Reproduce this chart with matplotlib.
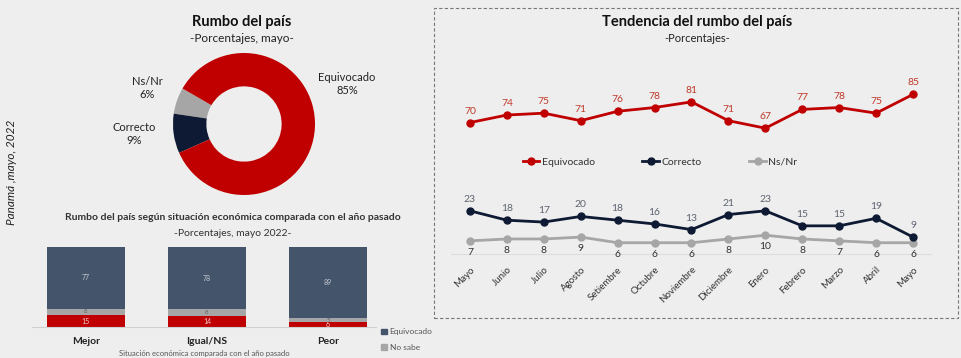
import matplotlib.pyplot as plt
from matplotlib.lines import Line2D
from matplotlib.patches import Rectangle, Patch

plt.rcParams['font.family'] = ['Lato', 'DejaVu Sans']

# donut
dona_labels = ["Ns/Nr", "Correcto", "Equivocado"]
dona_vals = [6, 9, 85]

# barras por situacion economica
sit = ["Mejor", "Igual/NS", "Peor"]
correcto_sit = [15, 14, 6]
nosabe_sit = [8, 8, 5]
equivocado_sit = [77, 78, 89]

# tendencia
meses = ["Mayo", "Junio", "Julio", "Agosto", "Setiembre", "Octubre", "Noviembre",
         "Diciembre", "Enero", "Febrero", "Marzo", "Abril", "Mayo"]
equivocado = [70, 74, 75, 71, 76, 78, 81, 71, 67, 77, 78, 75, 85]
correcto = [23, 18, 17, 20, 18, 16, 13, 21, 23, 15, 15, 19, 9]
nsnr = [7, 8, 8, 9, 6, 6, 6, 8, 10, 8, 7, 6, 6]

ROJO = '#c00000'
AZUL = '#0e1a33'
GRIS = '#a6a6a6'
PIZARRA = '#44546a'

W, H = 962, 358
fig = plt.figure(figsize=(W / 100, H / 100), dpi=100, facecolor='#eeeeee')


def fx(px):
    return px / W


def fy(py):
    return 1 - py / H


# ---------- donut ----------
fig.text(fx(242), fy(22), "Rumbo del país", ha='center', va='center',
         fontsize=10.5, fontweight='bold', color='#111111')
fig.text(fx(242), fy(39), "-Porcentajes, mayo-", ha='center', va='center',
         fontsize=8.5, color='#222222')

ax0 = fig.add_axes([fx(244 - 71), fy(124 + 71), fx(142), 142 / H])
ax0.pie(dona_vals, colors=[GRIS, AZUL, ROJO], startangle=150, counterclock=True,
        wedgeprops=dict(width=0.47, edgecolor='none'))
ax0.set_xlim(-1, 1)
ax0.set_ylim(-1, 1)
ax0.set_aspect('equal')
ax0.axis('off')

fig.text(fx(347), fy(84), "Equivocado\n85%", ha='center', va='center',
         fontsize=8, color='#222222', linespacing=1.3)
fig.text(fx(147), fy(88), "Ns/Nr\n6%", ha='center', va='center',
         fontsize=8, color='#222222', linespacing=1.3)
fig.text(fx(134), fy(134), "Correcto\n9%", ha='center', va='center',
         fontsize=8, color='#222222', linespacing=1.3)

fig.text(fx(12), fy(172), "Panamá ,mayo, 2022", rotation=90, ha='center', va='center',
         fontsize=8.5, style='italic', color='#222222')

# ---------- barras ----------
fig.text(fx(233), fy(218), "Rumbo del país según situación económica comparada con el año pasado",
         ha='center', va='center', fontsize=7.5, fontweight='bold', color='#333333')
fig.text(fx(233), fy(233), "-Porcentajes, mayo 2022-", ha='center', va='center',
         fontsize=7.5, color='#333333')

ax1 = fig.add_axes([fx(31.5), fy(327), fx(376.4 - 31.5), 80 / H])
ax1.set_facecolor('none')
xs = range(len(sit))
b1 = ax1.bar(xs, correcto_sit, width=0.645, color=ROJO)
b2 = ax1.bar(xs, nosabe_sit, width=0.645, bottom=correcto_sit, color=GRIS)
base2 = [a + b for a, b in zip(correcto_sit, nosabe_sit)]
b3 = ax1.bar(xs, equivocado_sit, width=0.645, bottom=base2, color=PIZARRA)
ax1.bar_label(b1, label_type='center', fontsize=5, color='#f0d0d0')
ax1.bar_label(b2, label_type='center', fontsize=4.5, color='#666666')
ax1.bar_label(b3, label_type='center', fontsize=5, color='#c8ccd4')
ax1.set_xlim(-0.45, 2.4)
ax1.set_ylim(0, 100)
ax1.set_xticks(list(xs))
ax1.set_xticklabels(sit, fontsize=7.5, fontweight='bold', color='#222222')
ax1.tick_params(axis='x', length=0, pad=7)
ax1.set_yticks([])
for s in ['top', 'right', 'left']:
    ax1.spines[s].set_visible(False)
ax1.spines['bottom'].set_color('#d0d0d0')
ax1.set_xlabel("Situación económica comparada con el año pasado", fontsize=5.5,
               color='#555555', labelpad=3)

leg1 = fig.legend(handles=[Patch(color=PIZARRA, label='Equivocado'),
                           Patch(color=GRIS, label='No sabe'),
                           Patch(color=ROJO, label='Correcto')],
                  loc='upper left', bbox_to_anchor=(fx(378), fy(325)), frameon=False,
                  fontsize=6, handlelength=0.7, handleheight=0.7, handletextpad=0.3,
                  labelspacing=1.0, borderaxespad=0, labelcolor='#555555')

# ---------- tendencia ----------
fig.add_artist(Rectangle((fx(434), fy(318)), fx(958 - 434), (318 - 8) / H,
                         transform=fig.transFigure, fill=False, edgecolor='#777777',
                         linestyle=(0, (3, 2)), linewidth=0.8))
fig.text(fx(697), fy(22), "Tendencia del rumbo del país", ha='center', va='center',
         fontsize=10.5, fontweight='bold', color='#111111')
fig.text(fx(697), fy(39), "-Porcentajes-", ha='center', va='center',
         fontsize=8, color='#222222')

ax2 = fig.add_axes([fx(451.5), fy(254), fx(931.5 - 451.5), (254 - 85) / H])
ax2.set_facecolor('none')
x = list(range(len(meses)))
ax2.plot(x, nsnr, color=GRIS, lw=2, marker='o', ms=5)
ax2.plot(x, correcto, color=AZUL, lw=2, marker='o', ms=5)
ax2.plot(x, equivocado, color=ROJO, lw=2, marker='o', ms=5)
for i in x:
    ax2.annotate(str(equivocado[i]), (i, equivocado[i]), xytext=(0, 5),
                 textcoords='offset points', ha='center', va='bottom',
                 fontsize=7.5, color='#c0392b')
    ax2.annotate(str(correcto[i]), (i, correcto[i]), xytext=(0, 5),
                 textcoords='offset points', ha='center', va='bottom',
                 fontsize=7.5, color='#5f6470')
    ax2.annotate(str(nsnr[i]), (i, nsnr[i]), xytext=(0, -5),
                 textcoords='offset points', ha='center', va='top',
                 fontsize=7.5, color='#333333')
ax2.set_xlim(-0.5, 12.5)
ax2.set_ylim(0, 90)
ax2.set_xticks(x)
ax2.set_xticklabels(meses, rotation=45, ha='right', rotation_mode='anchor',
                    fontsize=7, color='#333333')
ax2.tick_params(axis='x', length=0, pad=8)
ax2.set_yticks([])
for s in ['top', 'right', 'left']:
    ax2.spines[s].set_visible(False)
ax2.spines['bottom'].set_color('#dddddd')

handles = [Line2D([], [], color=ROJO, lw=2, marker='o', ms=5, label='Equivocado'),
           Line2D([], [], color=AZUL, lw=2, marker='o', ms=5, label='Correcto'),
           Line2D([], [], color=GRIS, lw=2, marker='o', ms=5, label='Ns/Nr')]
fig.legend(handles=handles, loc='center', bbox_to_anchor=(fx(660), fy(162)), ncol=3,
           frameon=False, fontsize=7.5, handlelength=1.6, handletextpad=0.2,
           columnspacing=4.6, labelcolor='#333333')

fig.savefig('out.png', dpi=100, facecolor=fig.get_facecolor())
